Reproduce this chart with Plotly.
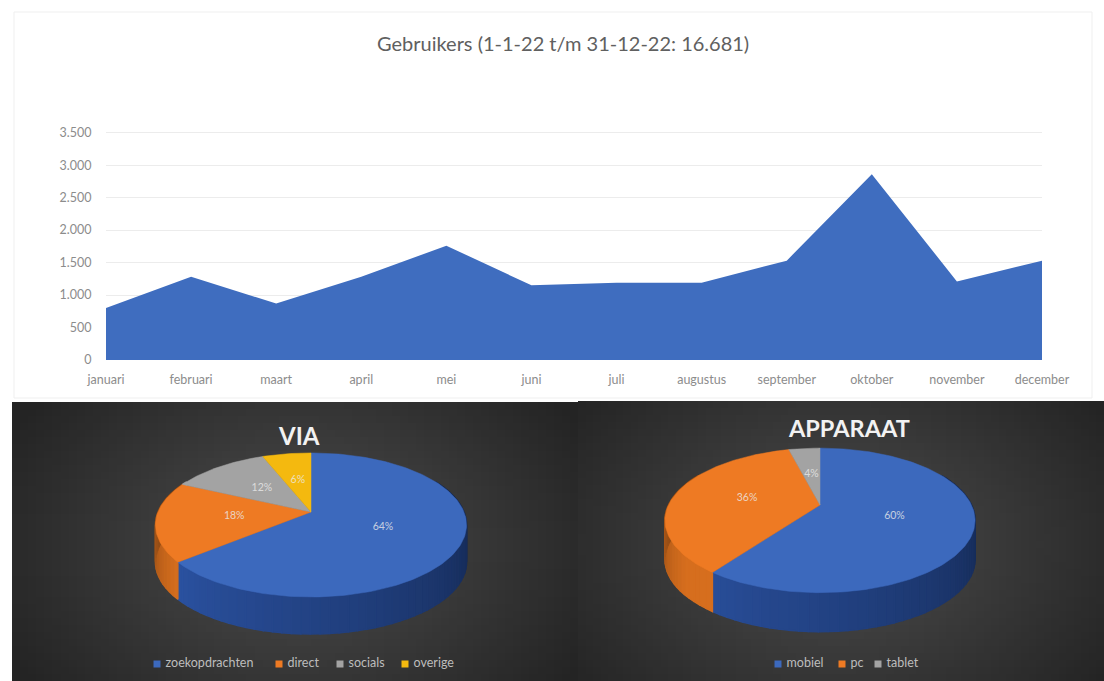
import numpy as np
import plotly.graph_objects as go

# ---------- data ----------
months = ["januari", "februari", "maart", "april", "mei", "juni", "juli",
          "augustus", "september", "oktober", "november", "december"]
users = [800, 1280, 870, 1280, 1760, 1150, 1190, 1190, 1530, 2860, 1210, 1530]
y_ticks = [0, 500, 1000, 1500, 2000, 2500, 3000, 3500]
y_tick_labels = ["0", "500", "1.000", "1.500", "2.000", "2.500", "3.000", "3.500"]
title_text = "Gebruikers (1-1-22 t/m 31-12-22: 16.681)"

via_names = ["zoekopdrachten", "direct", "socials", "overige"]
via_values = [64, 18, 12, 6]
device_names = ["mobiel", "pc", "tablet"]
device_values = [60, 36, 4]

# ---------- style ----------
W, H = 1104, 681
FONT = "Lato"
AREA = "#3f6dbf"
top_colors = ["#3c69bd", "#ee7a23", "#a3a3a3", "#f4b90f"]
side_dark = [(20, 40, 82), (150, 78, 22), (110, 110, 110), (160, 120, 10)]
side_light = [(44, 84, 165), (214, 110, 30), (140, 140, 140), (200, 150, 10)]


def rgb(c):
    return "rgb(%d,%d,%d)" % tuple(int(round(v)) for v in c)


def project(t, f, g):
    """t = degrees clockwise from 12 o'clock, f = radius fraction, g = pie geometry."""
    r = np.radians(t)
    X, Y = f * np.sin(r), f * np.cos(r)
    w = 1 + g["p"] * Y
    return g["cx"] + g["rx"] * X / w, g["cy"] - g["ry"] * Y / w


fig = go.Figure()

# ---------- top chart ----------
fig.add_trace(go.Scatter(
    x=months, y=users, mode="lines", fill="tozeroy", fillcolor=AREA,
    line=dict(color=AREA, width=0), showlegend=False, xaxis="x", yaxis="y",
    hoverinfo="x+y"))


# ---------- dark panels ----------
def panel(x0, x1, y0, y1, cx, cy):
    xs = np.linspace(x0, x1, 71)
    ys = np.linspace(y0, y1, 41)
    xc, yc = (xs[:-1] + xs[1:]) / 2, (ys[:-1] + ys[1:]) / 2
    xx, yy = np.meshgrid(xc, yc)
    d = np.sqrt(((xx - cx) / 330.0) ** 2 + ((yy - cy) / 230.0) ** 2)
    z = np.clip(1 - d, 0, 1)
    fig.add_trace(go.Heatmap(
        x=xs, y=ys, z=z, zmin=0, zmax=1, showscale=False,
        colorscale=[[0, "#242424"], [1, "#4d4d4d"]], hoverinfo="skip",
        xaxis="x2", yaxis="y2"))


panel(12, 578, 402, 681, 298, 545)
panel(578, 1104, 401, 681, 835, 545)


# ---------- pseudo 3-D pies, drawn from the share values ----------
def pie(values, g):
    total = float(sum(values))
    edges = np.cumsum([0] + list(values)) / total * 360.0
    # side wall
    for i, v in enumerate(values):
        a, b = max(edges[i], 62), min(edges[i + 1], 298)
        if b <= a:
            continue
        ts = np.linspace(a, b, max(2, int((b - a) / 3) + 2))
        for t0, t1 in zip(ts[:-1], ts[1:]):
            xa, ya = project(t0, 1, g)
            xb, yb = project(t1, 1, g)
            tm = (t0 + t1) / 2
            s = np.clip((tm - 90) / 150.0, 0, 1)
            col = np.array(side_dark[i]) * (1 - s) + np.array(side_light[i]) * s
            if i == 1:
                col = np.array(side_light[i]) * (1 - 0.35 * np.clip((tm - 230) / 50, 0, 1))
            fig.add_trace(go.Scatter(
                x=[xa, xb, xb, xa, xa],
                y=[ya, yb, yb + g["d"], ya + g["d"], ya],
                mode="lines", fill="toself", fillcolor=rgb(col),
                line=dict(color=rgb(col), width=1.5), hoverinfo="skip",
                showlegend=False, xaxis="x2", yaxis="y2"))
    # top surface
    for i, v in enumerate(values):
        ts = np.linspace(edges[i], edges[i + 1], max(4, int(v * 3)))
        px, py = project(ts, 1, g)
        fig.add_trace(go.Scatter(
            x=[g["cx"]] + list(px) + [g["cx"]],
            y=[g["cy"]] + list(py) + [g["cy"]],
            mode="lines", fill="toself", fillcolor=top_colors[i],
            line=dict(color=top_colors[i], width=0.5), hoverinfo="skip",
            showlegend=False, xaxis="x2", yaxis="y2"))
    # percentage labels
    for i, v in enumerate(values):
        lx, ly = project((edges[i] + edges[i + 1]) / 2, 0.5, g)
        fig.add_trace(go.Scatter(
            x=[lx], y=[ly], mode="text", text=["%d%%" % v],
            textposition="middle center",
            textfont=dict(family=FONT, size=10.5, color="rgba(235,235,235,0.8)"),
            hoverinfo="skip", showlegend=False, xaxis="x2", yaxis="y2"))


pie(via_values, dict(cx=311, cy=512, rx=153, ry=69.7, p=0.18, d=37))
pie(device_values, dict(cx=820, cy=505, rx=151.5, ry=69, p=0.213, d=39))


# ---------- custom legends ----------
def legend(names, xs, y):
    for i, (n, x) in enumerate(zip(names, xs)):
        fig.add_trace(go.Scatter(
            x=[x], y=[y], mode="markers+text", text=[" " + n],
            textposition="middle right",
            marker=dict(symbol="square", size=7, color=top_colors[i]),
            textfont=dict(family=FONT, size=12.5, color="#bdbdbd"),
            hoverinfo="skip", showlegend=False, xaxis="x2", yaxis="y2"))


legend(via_names, [157, 279, 340, 405], 664)
legend(device_names, [778, 842, 878], 664)

# ---------- layout ----------
x0, x1, ybase, ytop = 106, 1042, 360, 131
fig.update_layout(
    template="none",
    width=W, height=H, autosize=False,
    margin=dict(l=0, r=0, t=0, b=0, pad=0),
    paper_bgcolor="white", plot_bgcolor="rgba(0,0,0,0)",
    font=dict(family=FONT, color="#6a6a6a"),
    showlegend=False,
    xaxis=dict(domain=[x0 / W, x1 / W], type="category", range=[0, 11],
               categoryorder="array", categoryarray=months, automargin=False,
               showgrid=False, zeroline=False, showline=False,
               ticks="outside", ticklen=8, tickcolor="rgba(0,0,0,0)",
               tickfont=dict(family=FONT, size=12.5, color="#8c8c8c"), anchor="y"),
    yaxis=dict(domain=[1 - ybase / H, 1 - ytop / H], range=[0, 3526], automargin=False,
               tickvals=y_ticks, ticktext=y_tick_labels, showgrid=True,
               gridcolor="#ececec", gridwidth=1, zeroline=False, showline=False,
               ticks="outside", ticklen=11, tickcolor="rgba(0,0,0,0)",
               tickfont=dict(family=FONT, size=12.5, color="#8c8c8c"),
               anchor="x"),
    xaxis2=dict(domain=[0, 1], range=[0, W], visible=False, anchor="y2",
                fixedrange=True, automargin=False),
    yaxis2=dict(domain=[0, 1], range=[H, 0], visible=False, anchor="x2",
                fixedrange=True, automargin=False),
    shapes=[dict(type="rect", xref="x2", yref="y2", x0=14, x1=1092, y0=12, y1=398,
                 line=dict(color="#efefef", width=1), fillcolor="rgba(0,0,0,0)",
                 layer="below")],
    annotations=[
        dict(text=title_text, xref="x2", yref="y2", x=563, y=43, showarrow=False,
             font=dict(family=FONT, size=20, color="#606060")),
        dict(text="<b>VIA</b>", xref="x2", yref="y2", x=298.5, y=435, showarrow=False,
             font=dict(family=FONT, size=24, color="#f2f2f2")),
        dict(text="<b>APPARAAT</b>", xref="x2", yref="y2", x=849, y=428, showarrow=False,
             font=dict(family=FONT, size=23.5, color="#f2f2f2")),
    ],
)

fig.write_html("out.html", config=dict(displayModeBar=False),
               post_script="document.body.style.margin='0';document.body.style.overflow='hidden';")
